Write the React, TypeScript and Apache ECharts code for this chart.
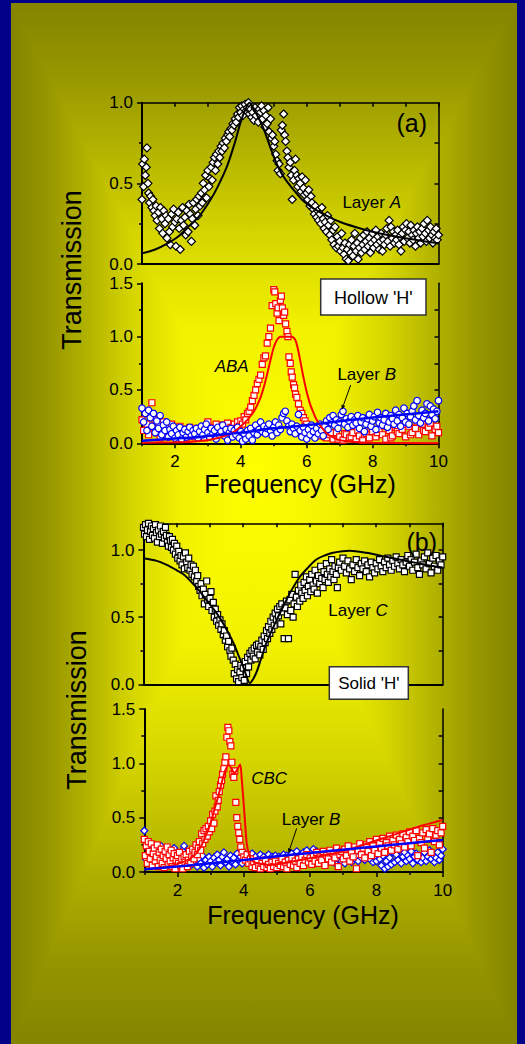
import React, { useEffect, useRef } from "react";
import * as echarts from "echarts";

const FONT = '"Liberation Sans", Arial, Helvetica, sans-serif';

// ---- tick values ----
const FREQ_MAJOR = [2, 4, 6, 8, 10];
const FREQ_MINOR = [1, 3, 5, 7, 9];
const FREQ_ALL = [1, 2, 3, 4, 5, 6, 7, 8, 9, 10];
const Y1_MAJOR = [0, 0.5, 1.0];
const Y1_MINOR = [0.25, 0.75];
const Y1_RIGHT = [0.25, 0.5, 0.75];
const Y15_MAJOR = [0, 0.5, 1.0, 1.5];
const Y15_MINOR = [0.25, 0.75, 1.25];
const Y15_RIGHT = [0.25, 0.5, 0.75, 1.0, 1.25];
const Y12_MAJOR = [0, 0.5, 1.0];
const Y12_MINOR = [0.25, 0.75];
const Y12_RIGHT = [0.25, 0.5, 0.75, 1.0];

// ---- panel (a) top: Layer A ----
const LAYER_A: [number, number][] = [
  [1.0, 0.4], [1.02, 0.62], [1.05, 0.48], [1.07, 0.65], [1.1, 0.55], [1.13, 0.6], [1.15, 0.72], [1.18, 0.5], [1.2, 0.44], [1.23, 0.38],
  [1.26, 0.42], [1.3, 0.35], [1.33, 0.4], [1.36, 0.33], [1.4, 0.3], [1.43, 0.36], [1.46, 0.27], [1.5, 0.32], [1.53, 0.22], [1.56, 0.35],
  [1.6, 0.28], [1.63, 0.19], [1.66, 0.33], [1.7, 0.25], [1.73, 0.3], [1.76, 0.16], [1.8, 0.28], [1.83, 0.2], [1.86, 0.12], [1.9, 0.31],
  [1.93, 0.23], [1.96, 0.34], [2.0, 0.26], [2.03, 0.11], [2.06, 0.28], [2.1, 0.32], [2.13, 0.22], [2.16, 0.09], [2.2, 0.27], [2.23, 0.35],
  [2.26, 0.24], [2.3, 0.29], [2.33, 0.18], [2.36, 0.33], [2.4, 0.2], [2.43, 0.37], [2.46, 0.31], [2.5, 0.14], [2.53, 0.28], [2.56, 0.38],
  [2.6, 0.24], [2.63, 0.34], [2.66, 0.4], [2.7, 0.3], [2.73, 0.42], [2.76, 0.36], [2.8, 0.44], [2.83, 0.38], [2.86, 0.5], [2.9, 0.46],
  [2.93, 0.55], [2.96, 0.41], [3.0, 0.58], [3.03, 0.48], [3.06, 0.53], [3.1, 0.6], [3.13, 0.52], [3.16, 0.63], [3.2, 0.66], [3.23, 0.58],
  [3.26, 0.68], [3.3, 0.62], [3.33, 0.7], [3.36, 0.66], [3.4, 0.73], [3.43, 0.7], [3.46, 0.75], [3.5, 0.72], [3.53, 0.78], [3.56, 0.76],
  [3.6, 0.8], [3.63, 0.82], [3.66, 0.79], [3.7, 0.84], [3.73, 0.83], [3.76, 0.87], [3.8, 0.86], [3.83, 0.9], [3.86, 0.88], [3.9, 0.93],
  [3.93, 0.91], [3.96, 0.97], [4.0, 0.94], [4.03, 0.98], [4.06, 0.92], [4.1, 0.96], [4.13, 0.99], [4.16, 0.95], [4.2, 0.97], [4.23, 1.0],
  [4.26, 0.93], [4.3, 0.96], [4.33, 0.91], [4.36, 0.94], [4.4, 0.89], [4.43, 0.97], [4.46, 0.92], [4.5, 0.95], [4.53, 0.88], [4.56, 0.96],
  [4.6, 0.94], [4.63, 0.98], [4.66, 0.9], [4.7, 0.95], [4.73, 0.85], [4.76, 0.92], [4.8, 0.87], [4.83, 0.97], [4.86, 0.82], [4.9, 0.9],
  [4.93, 0.78], [4.96, 0.8], [5.0, 0.73], [5.03, 0.76], [5.06, 0.68], [5.1, 0.64], [5.13, 0.58], [5.16, 0.62], [5.2, 0.56], [5.23, 0.83],
  [5.26, 0.86], [5.3, 0.93], [5.33, 0.8], [5.36, 0.76], [5.4, 0.7], [5.43, 0.66], [5.46, 0.6], [5.5, 0.63], [5.53, 0.55], [5.56, 0.4],
  [5.6, 0.52], [5.63, 0.58], [5.66, 0.65], [5.7, 0.55], [5.73, 0.48], [5.76, 0.53], [5.8, 0.5], [5.83, 0.45], [5.86, 0.54], [5.9, 0.47],
  [5.93, 0.43], [5.96, 0.52], [6.0, 0.44], [6.03, 0.4], [6.06, 0.46], [6.1, 0.36], [6.13, 0.42], [6.16, 0.38], [6.2, 0.34], [6.23, 0.31],
  [6.26, 0.36], [6.3, 0.29], [6.33, 0.33], [6.36, 0.27], [6.4, 0.31], [6.43, 0.25], [6.46, 0.35], [6.5, 0.28], [6.53, 0.22], [6.56, 0.26],
  [6.6, 0.2], [6.63, 0.3], [6.66, 0.24], [6.7, 0.18], [6.73, 0.27], [6.76, 0.15], [6.8, 0.21], [6.83, 0.12], [6.86, 0.23], [6.9, 0.1],
  [6.93, 0.17], [6.96, 0.11], [7.0, 0.14], [7.03, 0.08], [7.06, 0.19], [7.1, 0.1], [7.13, 0.06], [7.16, 0.13], [7.2, 0.03], [7.23, 0.09],
  [7.26, 0.02], [7.3, 0.12], [7.33, 0.07], [7.36, 0.15], [7.4, 0.05], [7.43, 0.11], [7.46, 0.19], [7.5, 0.08], [7.53, 0.13], [7.56, 0.03],
  [7.6, 0.1], [7.63, 0.16], [7.66, 0.07], [7.7, 0.12], [7.73, 0.18], [7.76, 0.09], [7.8, 0.14], [7.83, 0.2], [7.86, 0.11], [7.9, 0.16],
  [7.93, 0.07], [7.96, 0.13], [8.0, 0.19], [8.03, 0.1], [8.06, 0.15], [8.1, 0.21], [8.13, 0.12], [8.16, 0.17], [8.2, 0.09], [8.23, 0.14],
  [8.26, 0.19], [8.3, 0.08], [8.33, 0.15], [8.36, 0.12], [8.4, 0.18], [8.43, 0.22], [8.46, 0.14], [8.5, 0.27], [8.53, 0.11], [8.56, 0.23],
  [8.6, 0.16], [8.63, 0.2], [8.66, 0.13], [8.7, 0.18], [8.73, 0.15], [8.76, 0.21], [8.8, 0.12], [8.83, 0.17], [8.86, 0.08], [8.9, 0.19],
  [8.93, 0.23], [8.96, 0.14], [9.0, 0.21], [9.03, 0.25], [9.06, 0.16], [9.1, 0.2], [9.13, 0.13], [9.16, 0.24], [9.2, 0.18], [9.23, 0.15],
  [9.26, 0.21], [9.3, 0.11], [9.33, 0.19], [9.36, 0.23], [9.4, 0.16], [9.43, 0.2], [9.46, 0.13], [9.5, 0.22], [9.53, 0.17], [9.56, 0.25],
  [9.6, 0.19], [9.63, 0.14], [9.66, 0.27], [9.7, 0.21], [9.73, 0.16], [9.76, 0.23], [9.8, 0.18], [9.83, 0.13], [9.86, 0.2], [9.9, 0.16],
  [9.93, 0.22], [9.96, 0.15], [10.0, 0.18],
];
const LAYER_A_FIT: [number, number][] = [
  [1, 0.066], [1.4, 0.09], [1.75, 0.125], [2.1, 0.17], [2.4, 0.23], [2.75, 0.3], [3.07, 0.395], [3.3, 0.48], [3.57, 0.6], [3.8, 0.74],
  [3.98, 0.87], [4.12, 0.95], [4.26, 1.0], [4.4, 0.96], [4.55, 0.9], [4.69, 0.84], [4.9, 0.72], [5.09, 0.62], [5.3, 0.54], [5.6, 0.46],
  [5.9, 0.39], [6.2, 0.345], [6.6, 0.3], [7.0, 0.262], [7.5, 0.228], [8.0, 0.2], [8.5, 0.178], [9.0, 0.16], [9.5, 0.143], [10, 0.128],
];

// ---- panel (a) bottom: ABA and Layer B ----
const ABA: [number, number][] = [
  [1.0, 0.22], [1.05, 0.12], [1.1, 0.3], [1.15, 0.18], [1.2, 0.08], [1.25, 0.26], [1.3, 0.38], [1.35, 0.15], [1.4, 0.22], [1.45, 0.1],
  [1.5, 0.17], [1.55, 0.05], [1.6, 0.13], [1.65, 0.2], [1.7, 0.09], [1.75, 0.15], [1.8, 0.06], [1.85, 0.12], [1.9, 0.18], [1.95, 0.08],
  [2.0, 0.14], [2.05, 0.04], [2.1, 0.11], [2.15, 0.16], [2.2, 0.07], [2.25, 0.13], [2.3, 0.1], [2.35, 0.05], [2.4, 0.12], [2.45, 0.15],
  [2.5, 0.08], [2.55, 0.13], [2.6, 0.06], [2.65, 0.11], [2.7, 0.14], [2.75, 0.07], [2.8, 0.12], [2.85, 0.09], [2.9, 0.05], [2.95, 0.13],
  [3.0, 0.2], [3.05, 0.1], [3.1, 0.15], [3.15, 0.07], [3.2, 0.12], [3.25, 0.18], [3.3, 0.09], [3.35, 0.14], [3.4, 0.11], [3.45, 0.17],
  [3.5, 0.08], [3.55, 0.13], [3.6, 0.19], [3.65, 0.1], [3.7, 0.15], [3.75, 0.12], [3.8, 0.18], [3.85, 0.14], [3.9, 0.2], [3.95, 0.16],
  [4.0, 0.21], [4.05, 0.18], [4.1, 0.25], [4.15, 0.22], [4.2, 0.28], [4.25, 0.3], [4.3, 0.34], [4.35, 0.4], [4.4, 0.45], [4.45, 0.5],
  [4.5, 0.56], [4.55, 0.6], [4.6, 0.64], [4.65, 0.74], [4.7, 0.8], [4.75, 0.82], [4.8, 0.94], [4.85, 1.0], [4.9, 1.08], [4.95, 1.29],
  [5.0, 1.44], [5.03, 1.42], [5.06, 1.31], [5.1, 1.22], [5.13, 1.27], [5.16, 1.15], [5.2, 1.34], [5.23, 1.38], [5.26, 1.27], [5.3, 1.2],
  [5.33, 1.23], [5.36, 1.12], [5.4, 1.05], [5.43, 1.0], [5.46, 0.81], [5.5, 0.75], [5.53, 0.67], [5.56, 0.62], [5.6, 0.55], [5.63, 0.52],
  [5.66, 0.46], [5.7, 0.43], [5.75, 0.37], [5.8, 0.31], [5.85, 0.28], [5.9, 0.24], [5.95, 0.21], [6.0, 0.18], [6.1, 0.15], [6.2, 0.12],
  [6.3, 0.1], [6.4, 0.07], [6.5, 0.09], [6.55, 0.06], [6.6, 0.05], [6.7, 0.08], [6.75, 0.1], [6.8, 0.04], [6.9, 0.1], [6.95, 0.04],
  [7.0, 0.06], [7.1, 0.03], [7.15, 0.09], [7.2, 0.08], [7.3, 0.05], [7.35, 0.06], [7.4, 0.1], [7.5, 0.04], [7.55, 0.12], [7.6, 0.07],
  [7.7, 0.03], [7.75, 0.08], [7.8, 0.09], [7.9, 0.05], [7.95, 0.14], [8.0, 0.11], [8.1, 0.06], [8.15, 0.1], [8.2, 0.13], [8.3, 0.08],
  [8.35, 0.16], [8.4, 0.04], [8.5, 0.12], [8.55, 0.05], [8.6, 0.07], [8.7, 0.15], [8.75, 0.11], [8.8, 0.09], [8.9, 0.13], [8.95, 0.18],
  [9.0, 0.06], [9.1, 0.16], [9.15, 0.08], [9.2, 0.1], [9.3, 0.14], [9.35, 0.2], [9.4, 0.08], [9.5, 0.18], [9.55, 0.12], [9.6, 0.11],
  [9.7, 0.15], [9.75, 0.19], [9.8, 0.07], [9.9, 0.13], [9.95, 0.16], [10.0, 0.1],
];
const LAYER_B_A: [number, number][] = [
  [1.0, 0.33], [1.05, 0.2], [1.1, 0.28], [1.15, 0.12], [1.2, 0.31], [1.25, 0.24], [1.3, 0.16], [1.35, 0.28], [1.4, 0.1], [1.45, 0.21],
  [1.5, 0.14], [1.55, 0.26], [1.6, 0.08], [1.65, 0.17], [1.7, 0.12], [1.75, 0.2], [1.8, 0.06], [1.85, 0.13], [1.9, 0.09], [1.95, 0.16],
  [2.0, 0.05], [2.05, 0.12], [2.1, 0.08], [2.15, 0.15], [2.2, 0.04], [2.25, 0.1], [2.3, 0.13], [2.35, 0.06], [2.4, 0.11], [2.45, 0.15],
  [2.5, 0.07], [2.55, 0.12], [2.6, 0.09], [2.65, 0.14], [2.7, 0.05], [2.75, 0.11], [2.8, 0.16], [2.85, 0.08], [2.9, 0.13], [2.95, 0.18],
  [3.0, 0.1], [3.05, 0.06], [3.1, 0.14], [3.15, 0.09], [3.2, 0.12], [3.25, 0.04], [3.3, 0.15], [3.35, 0.08], [3.4, 0.11], [3.45, 0.17],
  [3.5, 0.07], [3.55, 0.13], [3.6, 0.03], [3.65, 0.1], [3.7, 0.14], [3.75, 0.06], [3.8, 0.12], [3.85, 0.08], [3.9, 0.15], [3.95, 0.05],
  [4.0, 0.11], [4.05, 0.02], [4.1, 0.09], [4.15, 0.04], [4.2, 0.12], [4.25, 0.07], [4.3, 0.14], [4.35, 0.03], [4.4, 0.1], [4.45, 0.17],
  [4.5, 0.08], [4.55, 0.13], [4.6, 0.2], [4.65, 0.11], [4.7, 0.16], [4.75, 0.09], [4.8, 0.14], [4.85, 0.18], [4.9, 0.12], [4.95, 0.07],
  [5.0, 0.15], [5.05, 0.2], [5.1, 0.1], [5.15, 0.17], [5.2, 0.13], [5.25, 0.24], [5.3, 0.28], [5.35, 0.3], [5.4, 0.21], [5.45, 0.16],
  [5.5, 0.11], [5.55, 0.18], [5.6, 0.14], [5.65, 0.09], [5.7, 0.16], [5.75, 0.27], [5.8, 0.12], [5.85, 0.06], [5.9, 0.15], [5.95, 0.1],
  [6.0, 0.04], [6.05, 0.13], [6.1, 0.08], [6.15, 0.17], [6.2, 0.11], [6.25, 0.05], [6.3, 0.14], [6.35, 0.09], [6.4, 0.18], [6.45, 0.12],
  [6.5, 0.07], [6.55, 0.16], [6.6, 0.21], [6.65, 0.13], [6.7, 0.24], [6.75, 0.19], [6.8, 0.26], [6.85, 0.17], [6.9, 0.22], [6.95, 0.14],
  [7.0, 0.2], [7.05, 0.27], [7.1, 0.3], [7.15, 0.18], [7.2, 0.23], [7.25, 0.15], [7.3, 0.21], [7.35, 0.25], [7.4, 0.17], [7.45, 0.22],
  [7.5, 0.19], [7.55, 0.26], [7.6, 0.14], [7.65, 0.2], [7.7, 0.24], [7.75, 0.11], [7.8, 0.18], [7.85, 0.23], [7.9, 0.27], [7.95, 0.16],
  [8.0, 0.21], [8.05, 0.25], [8.1, 0.13], [8.15, 0.29], [8.2, 0.19], [8.25, 0.24], [8.3, 0.17], [8.35, 0.22], [8.4, 0.28], [8.45, 0.15],
  [8.5, 0.2], [8.55, 0.26], [8.6, 0.23], [8.65, 0.18], [8.7, 0.31], [8.75, 0.21], [8.8, 0.27], [8.85, 0.16], [8.9, 0.24], [8.95, 0.33],
  [9.0, 0.2], [9.05, 0.28], [9.1, 0.18], [9.15, 0.25], [9.2, 0.3], [9.25, 0.35], [9.3, 0.22], [9.35, 0.4], [9.4, 0.26], [9.45, 0.19],
  [9.5, 0.31], [9.55, 0.24], [9.6, 0.28], [9.65, 0.37], [9.7, 0.21], [9.75, 0.35], [9.8, 0.27], [9.85, 0.32], [9.9, 0.23], [9.95, 0.3],
  [10.0, 0.4],
];
const ABA_FIT: [number, number][] = [
  [1, 0.005], [2, 0.01], [2.5, 0.015], [3, 0.03], [3.3, 0.05], [3.6, 0.08], [3.8, 0.11], [4.0, 0.16], [4.2, 0.22], [4.4, 0.3],
  [4.5, 0.36], [4.6, 0.43], [4.7, 0.53], [4.8, 0.65], [4.9, 0.78], [5.0, 0.9], [5.1, 0.97], [5.2, 1.0], [5.4, 1.0], [5.55, 1.0],
  [5.65, 0.97], [5.72, 0.9], [5.8, 0.78], [5.9, 0.62], [6.0, 0.48], [6.1, 0.37], [6.2, 0.29], [6.3, 0.22], [6.45, 0.15], [6.6, 0.094],
  [6.8, 0.055], [7.0, 0.03], [7.4, 0.012], [8, 0.004], [10, 0.001],
];
const LAYER_B_A_FIT: [number, number][] = [
  [1, 0.025], [2, 0.045], [2.77, 0.06], [3.5, 0.085], [4.0, 0.1], [5.0, 0.14], [6.0, 0.17], [6.8, 0.2], [7.8, 0.235], [8.8, 0.265], [10, 0.3],
];

// ---- panel (b) top: Layer C ----
const LAYER_C: [number, number][] = [
  [1.0, 1.17], [1.03, 1.12], [1.06, 1.19], [1.09, 1.1], [1.12, 1.15], [1.15, 1.2], [1.18, 1.08], [1.21, 1.14], [1.24, 1.18], [1.27, 1.11],
  [1.3, 1.16], [1.33, 1.09], [1.36, 1.19], [1.39, 1.13], [1.42, 1.06], [1.45, 1.15], [1.48, 1.1], [1.51, 1.18], [1.54, 1.12], [1.57, 1.05],
  [1.6, 1.14], [1.63, 1.09], [1.66, 1.17], [1.69, 1.11], [1.72, 1.06], [1.75, 1.03], [1.78, 1.1], [1.81, 1.07], [1.84, 1.02], [1.87, 1.08],
  [1.9, 1.0], [1.93, 1.05], [1.96, 0.97], [2.0, 1.03], [2.03, 0.94], [2.06, 0.99], [2.1, 0.92], [2.13, 0.96], [2.16, 0.89], [2.2, 0.95],
  [2.23, 0.86], [2.26, 0.98], [2.3, 0.91], [2.33, 0.87], [2.36, 0.94], [2.4, 0.85], [2.43, 0.89], [2.46, 0.82], [2.5, 0.88], [2.53, 0.8],
  [2.56, 0.85], [2.6, 0.77], [2.63, 0.81], [2.66, 0.73], [2.7, 0.7], [2.73, 0.75], [2.76, 0.66], [2.8, 0.71], [2.83, 0.6], [2.86, 0.67],
  [2.9, 0.77], [2.93, 0.63], [2.96, 0.58], [3.0, 0.64], [3.03, 0.69], [3.06, 0.55], [3.1, 0.61], [3.13, 0.5], [3.16, 0.56], [3.2, 0.47],
  [3.23, 0.52], [3.26, 0.44], [3.3, 0.48], [3.33, 0.41], [3.36, 0.45], [3.4, 0.37], [3.43, 0.4], [3.46, 0.33], [3.5, 0.36], [3.53, 0.28],
  [3.56, 0.32], [3.6, 0.25], [3.63, 0.21], [3.66, 0.27], [3.7, 0.18], [3.73, 0.08], [3.76, 0.15], [3.8, 0.04], [3.83, 0.11], [3.86, 0.02],
  [3.9, 0.09], [3.93, 0.14], [3.96, 0.05], [4.0, 0.12], [4.03, 0.03], [4.06, 0.17], [4.1, 0.08], [4.13, 0.2], [4.16, 0.13], [4.2, 0.23],
  [4.23, 0.18], [4.26, 0.25], [4.3, 0.21], [4.33, 0.27], [4.36, 0.19], [4.4, 0.29], [4.43, 0.24], [4.46, 0.3], [4.5, 0.22], [4.53, 0.28],
  [4.56, 0.33], [4.6, 0.26], [4.63, 0.36], [4.66, 0.31], [4.7, 0.4], [4.73, 0.34], [4.76, 0.43], [4.8, 0.38], [4.83, 0.47], [4.86, 0.41],
  [4.9, 0.5], [4.93, 0.44], [4.96, 0.53], [5.0, 0.48], [5.03, 0.56], [5.06, 0.51], [5.1, 0.58], [5.13, 0.45], [5.16, 0.6], [5.2, 0.54],
  [5.23, 0.34], [5.26, 0.57], [5.3, 0.62], [5.33, 0.52], [5.36, 0.34], [5.4, 0.63], [5.43, 0.55], [5.46, 0.67], [5.5, 0.5], [5.53, 0.6],
  [5.56, 0.82], [5.6, 0.65], [5.63, 0.58], [5.66, 0.7], [5.7, 0.62], [5.73, 0.74], [5.76, 0.68], [5.8, 0.64], [5.83, 0.76], [5.86, 0.7],
  [5.9, 0.8], [5.93, 0.66], [5.96, 0.73], [6.0, 0.78], [6.03, 0.69], [6.06, 0.82], [6.1, 0.74], [6.13, 0.71], [6.16, 0.85], [6.2, 0.77],
  [6.23, 0.68], [6.26, 0.81], [6.3, 0.75], [6.33, 0.88], [6.36, 0.79], [6.4, 0.72], [6.43, 0.84], [6.46, 0.78], [6.5, 0.9], [6.53, 0.82],
  [6.56, 0.76], [6.6, 0.86], [6.63, 0.8], [6.66, 0.93], [6.7, 0.84], [6.73, 0.78], [6.76, 0.88], [6.8, 0.82], [6.83, 0.72], [6.86, 0.87],
  [6.9, 0.91], [6.95, 0.85], [7.0, 0.94], [7.05, 0.88], [7.1, 0.83], [7.15, 0.92], [7.2, 0.86], [7.25, 0.78], [7.3, 0.89], [7.35, 0.84],
  [7.4, 0.93], [7.45, 0.87], [7.5, 0.81], [7.55, 0.9], [7.6, 0.86], [7.65, 0.92], [7.7, 0.84], [7.75, 0.89], [7.8, 0.8], [7.85, 0.91],
  [7.9, 0.87], [7.95, 0.83], [8.0, 0.9], [8.05, 0.86], [8.1, 0.93], [8.15, 0.88], [8.2, 0.84], [8.25, 0.91], [8.3, 0.87], [8.35, 0.94],
  [8.4, 0.89], [8.45, 0.85], [8.5, 0.92], [8.55, 0.88], [8.6, 0.95], [8.65, 0.9], [8.7, 0.86], [8.75, 0.93], [8.8, 0.89], [8.85, 0.84],
  [8.9, 0.91], [8.95, 0.96], [9.0, 0.88], [9.05, 0.93], [9.1, 0.85], [9.15, 0.91], [9.2, 0.97], [9.25, 0.87], [9.3, 0.82], [9.35, 0.92],
  [9.4, 0.89], [9.45, 0.95], [9.5, 0.86], [9.55, 0.98], [9.6, 0.9], [9.65, 0.83], [9.7, 0.94], [9.75, 0.88], [9.8, 0.96], [9.85, 0.85],
  [9.9, 0.92], [9.95, 0.89], [10.0, 0.95],
];
const LAYER_C_FIT: [number, number][] = [
  [1, 0.94], [1.4, 0.92], [1.7, 0.89], [2.0, 0.85], [2.2, 0.82], [2.45, 0.76], [2.7, 0.69], [2.95, 0.61], [3.2, 0.53], [3.45, 0.43],
  [3.7, 0.31], [3.85, 0.22], [4.0, 0.13], [4.1, 0.06], [4.2, 0.008], [4.3, 0.04], [4.4, 0.09], [4.55, 0.2], [4.7, 0.31], [4.95, 0.45],
  [5.2, 0.58], [5.45, 0.7], [5.7, 0.8], [5.95, 0.87], [6.2, 0.93], [6.45, 0.96], [6.7, 0.98], [7.2, 0.995], [7.7, 0.98], [8.2, 0.955],
  [8.7, 0.93], [9.2, 0.905], [9.6, 0.885], [10, 0.87],
];

// ---- panel (b) bottom: CBC and Layer B ----
const CBC: [number, number][] = [
  [1.0, 0.3], [1.03, 0.15], [1.06, 0.24], [1.09, 0.08], [1.12, 0.28], [1.15, 0.19], [1.18, 0.12], [1.21, 0.26], [1.24, 0.06], [1.27, 0.17],
  [1.3, 0.22], [1.33, 0.1], [1.36, 0.14], [1.39, 0.25], [1.42, 0.05], [1.45, 0.18], [1.48, 0.11], [1.51, 0.21], [1.54, 0.08], [1.57, 0.15],
  [1.6, 0.04], [1.63, 0.19], [1.66, 0.12], [1.69, 0.23], [1.72, 0.07], [1.75, 0.16], [1.78, 0.1], [1.81, 0.2], [1.84, 0.05], [1.87, 0.13],
  [1.9, 0.17], [1.93, 0.03], [1.96, 0.11], [2.0, 0.15], [2.03, 0.08], [2.06, 0.18], [2.1, 0.06], [2.13, 0.12], [2.16, 0.03], [2.2, 0.14],
  [2.23, 0.09], [2.26, 0.16], [2.3, 0.05], [2.33, 0.11], [2.36, 0.19], [2.4, 0.08], [2.43, 0.14], [2.46, 0.21], [2.5, 0.12], [2.53, 0.18],
  [2.56, 0.25], [2.6, 0.16], [2.63, 0.22], [2.66, 0.28], [2.7, 0.2], [2.73, 0.35], [2.76, 0.26], [2.8, 0.38], [2.83, 0.3], [2.86, 0.4],
  [2.9, 0.33], [2.93, 0.42], [2.96, 0.37], [3.0, 0.47], [3.03, 0.4], [3.06, 0.53], [3.1, 0.45], [3.13, 0.56], [3.16, 0.7], [3.2, 0.6],
  [3.23, 0.66], [3.26, 0.74], [3.3, 0.8], [3.33, 0.84], [3.36, 0.9], [3.4, 0.95], [3.43, 1.01], [3.46, 1.06], [3.49, 1.24], [3.52, 1.33],
  [3.55, 1.3], [3.58, 1.2], [3.61, 1.16], [3.64, 1.01], [3.67, 0.9], [3.7, 0.87], [3.73, 0.93], [3.76, 0.64], [3.79, 0.5], [3.82, 0.42],
  [3.85, 0.36], [3.88, 0.3], [3.91, 0.23], [3.95, 0.18], [4.0, 0.14], [4.05, 0.11], [4.1, 0.16], [4.15, 0.08], [4.2, 0.12], [4.25, 0.05],
  [4.3, 0.09], [4.35, 0.04], [4.4, 0.1], [4.45, 0.06], [4.5, 0.03], [4.55, 0.08], [4.6, 0.05], [4.65, 0.11], [4.7, 0.04], [4.75, 0.07],
  [4.8, 0.03], [4.85, 0.09], [4.9, 0.05], [4.95, 0.1], [5.0, 0.04], [5.05, 0.08], [5.1, 0.06], [5.15, 0.12], [5.2, 0.05], [5.25, 0.09],
  [5.3, 0.03], [5.35, 0.11], [5.4, 0.07], [5.45, 0.13], [5.5, 0.06], [5.55, 0.1], [5.6, 0.04], [5.65, 0.12], [5.7, 0.08], [5.75, 0.14],
  [5.8, 0.06], [5.85, 0.11], [5.9, 0.16], [5.95, 0.09], [6.0, 0.13], [6.05, 0.07], [6.1, 0.15], [6.15, 0.1], [6.2, 0.18], [6.25, 0.08],
  [6.3, 0.14], [6.35, 0.11], [6.4, 0.19], [6.45, 0.06], [6.5, 0.15], [6.55, 0.12], [6.6, 0.2], [6.65, 0.09], [6.7, 0.17], [6.75, 0.13],
  [6.8, 0.22], [6.85, 0.05], [6.9, 0.16], [6.95, 0.19], [7.0, 0.12], [7.05, 0.21], [7.1, 0.15], [7.15, 0.24], [7.2, 0.1], [7.25, 0.18],
  [7.3, 0.14], [7.35, 0.23], [7.4, 0.03], [7.45, 0.2], [7.5, 0.26], [7.55, 0.16], [7.6, 0.22], [7.65, 0.13], [7.7, 0.25], [7.75, 0.19],
  [7.8, 0.28], [7.85, 0.15], [7.9, 0.24], [7.95, 0.2], [8.0, 0.3], [8.05, 0.17], [8.1, 0.26], [8.15, 0.22], [8.2, 0.31], [8.25, 0.18],
  [8.3, 0.27], [8.35, 0.24], [8.4, 0.33], [8.45, 0.2], [8.5, 0.29], [8.55, 0.25], [8.6, 0.34], [8.65, 0.21], [8.7, 0.3], [8.75, 0.26],
  [8.8, 0.35], [8.85, 0.23], [8.9, 0.32], [8.95, 0.28], [9.0, 0.37], [9.05, 0.24], [9.1, 0.33], [9.15, 0.29], [9.2, 0.38], [9.25, 0.15],
  [9.3, 0.31], [9.35, 0.27], [9.4, 0.36], [9.45, 0.22], [9.5, 0.39], [9.55, 0.3], [9.6, 0.35], [9.65, 0.18], [9.7, 0.4], [9.75, 0.28],
  [9.8, 0.34], [9.85, 0.38], [9.9, 0.25], [9.95, 0.36], [10.0, 0.42],
];
const LAYER_B_B: [number, number][] = [
  [1.0, 0.38], [1.05, 0.12], [1.1, 0.22], [1.15, 0.08], [1.2, 0.18], [1.25, 0.14], [1.3, 0.25], [1.35, 0.1], [1.4, 0.2], [1.45, 0.16],
  [1.5, 0.24], [1.55, 0.09], [1.6, 0.17], [1.65, 0.21], [1.7, 0.13], [1.75, 0.19], [1.8, 0.07], [1.85, 0.15], [1.9, 0.22], [1.95, 0.11],
  [2.0, 0.17], [2.05, 0.08], [2.1, 0.14], [2.15, 0.2], [2.2, 0.24], [2.25, 0.12], [2.3, 0.09], [2.35, 0.16], [2.4, 0.06], [2.45, 0.13],
  [2.5, 0.1], [2.55, 0.17], [2.6, 0.05], [2.65, 0.12], [2.7, 0.08], [2.75, 0.15], [2.8, 0.04], [2.85, 0.11], [2.9, 0.07], [2.95, 0.14],
  [3.0, 0.1], [3.05, 0.05], [3.1, 0.13], [3.15, 0.09], [3.2, 0.16], [3.25, 0.11], [3.3, 0.06], [3.35, 0.14], [3.4, 0.18], [3.45, 0.09],
  [3.5, 0.12], [3.55, 0.05], [3.6, 0.15], [3.65, 0.1], [3.7, 0.13], [3.75, 0.07], [3.8, 0.17], [3.85, 0.11], [3.9, 0.14], [3.95, 0.08],
  [4.0, 0.18], [4.05, 0.12], [4.1, 0.15], [4.15, 0.09], [4.2, 0.13], [4.25, 0.17], [4.3, 0.1], [4.35, 0.14], [4.4, 0.08], [4.45, 0.12],
  [4.5, 0.16], [4.55, 0.11], [4.6, 0.14], [4.65, 0.09], [4.7, 0.13], [4.75, 0.16], [4.8, 0.1], [4.85, 0.14], [4.9, 0.12], [4.95, 0.15],
  [5.0, 0.11], [5.05, 0.14], [5.1, 0.09], [5.15, 0.13], [5.2, 0.16], [5.25, 0.12], [5.3, 0.15], [5.35, 0.1], [5.4, 0.14], [5.45, 0.17],
  [5.5, 0.12], [5.55, 0.15], [5.6, 0.19], [5.65, 0.13], [5.7, 0.16], [5.75, 0.11], [5.8, 0.18], [5.85, 0.14], [5.9, 0.2], [5.95, 0.15],
  [6.0, 0.12], [6.05, 0.18], [6.1, 0.21], [6.15, 0.16], [6.2, 0.19], [6.25, 0.13], [6.3, 0.17], [6.35, 0.1], [6.4, 0.15], [6.45, 0.12],
  [6.5, 0.08], [6.55, 0.14], [6.6, 0.11], [6.65, 0.16], [6.7, 0.09], [6.75, 0.13], [6.8, 0.07], [6.85, 0.12], [6.9, 0.15], [6.95, 0.1],
  [7.0, 0.13], [7.05, 0.08], [7.1, 0.16], [7.15, 0.11], [7.2, 0.14], [7.25, 0.09], [7.3, 0.17], [7.35, 0.12], [7.4, 0.15], [7.45, 0.1],
  [7.5, 0.18], [7.55, 0.13], [7.6, 0.16], [7.65, 0.11], [7.7, 0.14], [7.75, 0.19], [7.8, 0.12], [7.85, 0.16], [7.9, 0.09], [7.95, 0.14],
  [8.0, 0.1], [8.05, 0.17], [8.1, 0.12], [8.15, 0.06], [8.2, 0.15], [8.25, 0.03], [8.3, 0.1], [8.35, 0.05], [8.4, 0.13], [8.45, 0.07],
  [8.5, 0.18], [8.55, 0.09], [8.6, 0.16], [8.65, 0.11], [8.7, 0.2], [8.75, 0.08], [8.8, 0.14], [8.85, 0.18], [8.9, 0.1], [8.95, 0.15],
  [9.0, 0.12], [9.05, 0.19], [9.1, 0.08], [9.15, 0.14], [9.2, 0.17], [9.25, 0.11], [9.3, 0.15], [9.35, 0.09], [9.4, 0.13], [9.45, 0.18],
  [9.5, 0.1], [9.55, 0.14], [9.6, 0.2], [9.65, 0.12], [9.7, 0.16], [9.75, 0.09], [9.8, 0.13], [9.85, 0.18], [9.9, 0.11], [9.95, 0.15],
  [10.0, 0.21],
];
const CBC_FIT: [number, number][] = [
  [1, 0.025], [1.7, 0.05], [2.2, 0.095], [2.5, 0.15], [2.7, 0.23], [2.85, 0.33], [3.0, 0.45], [3.12, 0.58], [3.25, 0.72], [3.35, 0.84],
  [3.45, 0.94], [3.55, 0.985], [3.65, 0.94], [3.72, 0.91], [3.8, 0.94], [3.89, 0.99], [3.94, 0.85], [3.99, 0.66], [4.04, 0.45], [4.09, 0.26],
  [4.16, 0.16], [4.24, 0.11], [4.35, 0.085], [4.5, 0.075], [4.8, 0.065], [5.2, 0.08], [5.7, 0.11], [6.2, 0.14], [6.7, 0.17], [7.2, 0.21],
  [7.7, 0.26], [8.2, 0.31], [8.7, 0.36], [9.2, 0.41], [9.6, 0.445], [10, 0.48],
];
const LAYER_B_B_FIT: [number, number][] = [
  [1, 0.025], [2, 0.05], [3, 0.08], [4, 0.11], [5, 0.145], [6, 0.175], [7, 0.205], [8, 0.235], [9, 0.265], [10, 0.295],
];

// ---- layout ----
const GRIDS = [
  { left: 142, top: 102.7, width: 296.5, height: 161.3 },
  { left: 142, top: 283.3, width: 296.5, height: 160 },
  { left: 143.5, top: 523.3, width: 299.2, height: 161 },
  { left: 144.3, top: 709, width: 298.4, height: 163 },
];
const Y_MAX = [1.0, 1.5, 1.2, 1.5];

const AXIS_LINE = { show: true, onZero: false, lineStyle: { color: "#000", width: 2 } };
const NO_LINE = { show: false, onZero: false };

function xAxes(g: number, top: boolean, labels: boolean) {
  const base = { type: "value", gridIndex: g, min: 1, max: 10, interval: 1, splitLine: { show: false } };
  const list: any[] = [];
  list.push({
    ...base,
    position: "bottom",
    axisLine: AXIS_LINE,
    axisTick: labels
      ? { show: true, length: 5, customValues: FREQ_MAJOR, lineStyle: { color: "#000", width: 1.5 } }
      : { show: false },
    axisLabel: labels
      ? { show: true, customValues: FREQ_MAJOR, margin: 11, fontSize: 17, lineHeight: 14, color: "#000", fontFamily: FONT }
      : { show: false },
  });
  if (labels) {
    list.push({
      ...base,
      position: "bottom",
      axisLine: NO_LINE,
      axisTick: { show: true, length: 3, customValues: FREQ_MINOR, lineStyle: { color: "#000", width: 1.5 } },
      axisLabel: { show: false },
    });
  }
  if (top) {
    list.push({
      ...base,
      position: "top",
      axisLine: { ...AXIS_LINE, lineStyle: { color: "#000", width: 1.5 } },
      axisTick: { show: true, inside: true, length: 4, customValues: FREQ_ALL, lineStyle: { color: "#000", width: 1.5 } },
      axisLabel: { show: false },
    });
  }
  return list;
}

function yAxes(g: number, max: number, major: number[], minor: number[], right: number[]) {
  const base = { type: "value", gridIndex: g, min: 0, max, interval: 0.25, splitLine: { show: false } };
  return [
    {
      ...base,
      position: "left",
      axisLine: AXIS_LINE,
      axisTick: { show: true, length: 5, customValues: major, lineStyle: { color: "#000", width: 1.5 } },
      axisLabel: {
        show: true,
        customValues: major,
        margin: 9,
        fontSize: 17,
        lineHeight: 14,
        color: "#000",
        fontFamily: FONT,
        formatter: (v: number) => v.toFixed(1),
      },
    },
    {
      ...base,
      position: "left",
      axisLine: NO_LINE,
      axisTick: { show: true, length: 3, customValues: minor, lineStyle: { color: "#000", width: 1.5 } },
      axisLabel: { show: false },
    },
    {
      ...base,
      position: "right",
      axisLine: { ...AXIS_LINE, lineStyle: { color: "#000", width: 1.5 } },
      axisTick: { show: true, inside: true, length: 4, customValues: right, lineStyle: { color: "#000", width: 1.5 } },
      axisLabel: { show: false },
    },
  ];
}

function scatter(data: [number, number][], xi: number, yi: number, symbol: string, size: number, color: string, z: number) {
  return {
    type: "scatter",
    xAxisIndex: xi,
    yAxisIndex: yi,
    data,
    symbol,
    symbolSize: size,
    clip: false,
    z,
    itemStyle: { color: "#ffffff", borderColor: color, borderWidth: 1.2, opacity: 1 },
  };
}
function fit(data: [number, number][], xi: number, yi: number, color: string, width: number, z: number) {
  return {
    type: "line",
    xAxisIndex: xi,
    yAxisIndex: yi,
    data,
    showSymbol: false,
    symbol: "none",
    smooth: 0.3,
    clip: false,
    z,
    lineStyle: { color, width },
  };
}

// background (rectangular "from centre" gradient)
const PANEL = { l: 11, t: 3, r: 517, b: 1044 };
const CENTER = { x: 255, y: 470 };
const BG_STOPS = [
  { offset: 0, color: "#ffff00" },
  { offset: 0.3, color: "#f2f200" },
  { offset: 0.5, color: "#d6d600" },
  { offset: 0.7, color: "#b0b000" },
  { offset: 0.85, color: "#969600" },
  { offset: 1, color: "#848400" },
];

function bgTriangle(points: number[][], x0: number, y0: number, x1: number, y1: number) {
  const grad = () => new echarts.graphic.LinearGradient(x0, y0, x1, y1, BG_STOPS, true);
  return {
    type: "polygon",
    z: -10,
    silent: true,
    shape: { points },
    style: {
      fill: grad(),
      stroke: grad(),
      lineWidth: 2,
      lineJoin: "round",
    },
  };
}

function text(x: number, y: number, t: string, size: number, extra: any = {}) {
  return {
    type: "text",
    x,
    y,
    z: 50,
    silent: true,
    ...extra,
    style: {
      text: t,
      fontSize: size,
      fontFamily: FONT,
      fill: "#000",
      align: "center",
      verticalAlign: "middle",
      textAlign: "center",
      textVerticalAlign: "middle",
      lineHeight: Math.round(size * 0.95),
      rich: {
        it: { fontStyle: "italic", fontSize: size, fontFamily: FONT, fill: "#000", color: "#000", lineHeight: Math.round(size * 0.95) },
      },
      ...(extra.style || {}),
    },
  };
}

function arrow(x0: number, y0: number, x1: number, y1: number) {
  const dx = x1 - x0;
  const dy = y1 - y0;
  const len = Math.sqrt(dx * dx + dy * dy);
  const ux = dx / len;
  const uy = dy / len;
  const bx = x1 - ux * 5;
  const by = y1 - uy * 5;
  return [
    { type: "line", z: 50, silent: true, shape: { x1: x0, y1: y0, x2: bx, y2: by }, style: { stroke: "#000", lineWidth: 1 } },
    {
      type: "polygon",
      z: 50,
      silent: true,
      shape: { points: [[x1, y1], [bx - uy * 2, by + ux * 2], [bx + uy * 2, by - ux * 2]] },
      style: { fill: "#000" },
    },
  ];
}

function labelBox(x: number, y: number, w: number, h: number, t: string, size: number) {
  return [
    {
      type: "rect",
      z: 40,
      silent: true,
      shape: { x, y, width: w, height: h },
      style: { fill: "#ffffff", stroke: "#333333", lineWidth: 1.5 },
    },
    text(x + w / 2, y + h / 2 + 0.5, t, size),
  ];
}

export default function App() {
  const ref = useRef<HTMLDivElement>(null);
  useEffect(() => {
    document.body.style.margin = "0";
    if (!ref.current) return;
    const chart = echarts.init(ref.current, null, { renderer: "svg", width: 525, height: 1044 });

    const xs = [
      ...xAxes(0, true, false), // 0 bottom, 1 top
      ...xAxes(1, false, true), // 2 major, 3 minor
      ...xAxes(2, true, false), // 4 bottom, 5 top
      ...xAxes(3, false, true), // 6 major, 7 minor
    ];
    const ys = [
      ...yAxes(0, Y_MAX[0], Y1_MAJOR, Y1_MINOR, Y1_RIGHT), // 0..2
      ...yAxes(1, Y_MAX[1], Y15_MAJOR, Y15_MINOR, Y15_RIGHT), // 3..5
      ...yAxes(2, Y_MAX[2], Y12_MAJOR, Y12_MINOR, Y12_RIGHT), // 6..8
      ...yAxes(3, Y_MAX[3], Y15_MAJOR, Y15_MINOR, Y15_RIGHT), // 9..11
    ];

    const { l, t, r, b } = PANEL;
    const c = CENTER;
    const graphics: any[] = [
      { type: "rect", z: -20, silent: true, shape: { x: 0, y: 0, width: 525, height: 1044 }, style: { fill: "#000088" } },
      { type: "rect", z: -15, silent: true, shape: { x: l, y: t, width: r - l, height: b - t }, style: { fill: "#b0b000" } },
      bgTriangle([[c.x, c.y], [l, t], [r, t]], 0, c.y, 0, t),
      bgTriangle([[c.x, c.y], [l, b], [r, b]], 0, c.y, 0, b),
      bgTriangle([[c.x, c.y], [l, t], [l, b]], c.x, 0, l, 0),
      bgTriangle([[c.x, c.y], [r, t], [r, b]], c.x, 0, r, 0),
      { type: "rect", z: -5, silent: true, shape: { x: 0, y: 0, width: l, height: 1044 }, style: { fill: "#000088" } },
      { type: "rect", z: -5, silent: true, shape: { x: r, y: 0, width: 525 - r, height: 1044 }, style: { fill: "#000088" } },
      { type: "rect", z: -5, silent: true, shape: { x: 0, y: 0, width: 525, height: t }, style: { fill: "#000088" } },
      text(72, 270, "Transmission", 27, { rotation: Math.PI / 2 }),
      text(77, 710, "Transmission", 27, { rotation: Math.PI / 2 }),
      text(300, 484, "Frequency (GHz)", 25),
      text(303, 915, "Frequency (GHz)", 25),
      text(411.7, 123.3, "(a)", 25),
      text(421.7, 541.7, "(b)", 25),
      text(371.7, 202.7, "Layer {it|A}", 17),
      text(358, 610, "Layer {it|C}", 17),
      text(366.7, 374, "Layer {it|B}", 17),
      text(311, 819.3, "Layer {it|B}", 17),
      text(231.7, 366.7, "{it|ABA}", 17),
      text(269.2, 778.3, "{it|CBC}", 17),
      ...arrow(350.7, 385, 341.7, 410),
      ...arrow(296.7, 828.3, 288.3, 853.3),
      ...labelBox(320.7, 279, 105.3, 36, "Hollow 'H'", 18),
      ...labelBox(329.3, 666.7, 79, 32.6, "Solid 'H'", 17),
    ];

    const option: any = {
      animation: false,
      backgroundColor: "transparent",
      grid: GRIDS.map((g) => ({ ...g, containLabel: false, outerBoundsMode: "none", show: false })),
      xAxis: xs,
      yAxis: ys,
      graphic: { elements: graphics },
      series: [
        scatter(LAYER_A, 0, 0, "diamond", 8, "#000000", 2),
        fit(LAYER_A_FIT, 0, 0, "#000000", 2, 5),
        scatter(ABA, 2, 3, "rect", 6, "#ff0000", 2),
        scatter(LAYER_B_A, 2, 3, "circle", 6.5, "#0000ff", 3),
        fit(ABA_FIT, 2, 3, "#ff0000", 2, 5),
        fit(LAYER_B_A_FIT, 2, 3, "#0000ff", 2.5, 5),
        scatter(LAYER_C, 4, 6, "rect", 6, "#000000", 2),
        fit(LAYER_C_FIT, 4, 6, "#000000", 2, 5),
        scatter(LAYER_B_B, 6, 9, "diamond", 7, "#0000ff", 2),
        scatter(CBC, 6, 9, "rect", 6, "#ff0000", 3),
        fit(CBC_FIT, 6, 9, "#ff0000", 2, 5),
        fit(LAYER_B_B_FIT, 6, 9, "#0000ff", 2.5, 5),
      ],
    };
    chart.setOption(option);
    return () => chart.dispose();
  }, []);
  return <div ref={ref} style={{ width: 525, height: 1044 }} />;
}
